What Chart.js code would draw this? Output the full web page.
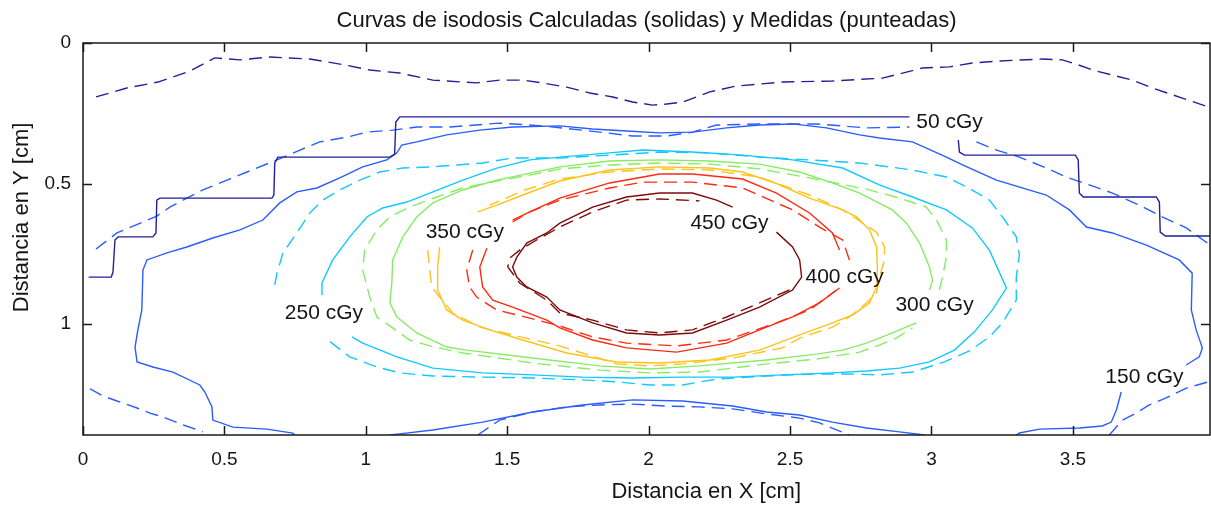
<!DOCTYPE html>
<html>
<head>
<meta charset="utf-8">
<title>Curvas de isodosis</title>
<script src="https://cdn.jsdelivr.net/npm/chart.js@4.4.1/dist/chart.umd.min.js"></script>
<style>
  html, body { margin: 0; padding: 0; background: #fff; }
  #isodosis { display: block; }
</style>
</head>
<body>
<canvas id="isodosis" width="1211" height="506"></canvas>
<script>
// dose levels (cGy) and axis ticks (cm)
const levels = [50, 150, 250, 300, 350, 400, 450];
const xTicks = [0, 0.5, 1, 1.5, 2, 2.5, 3, 3.5];
const yTicks = [0, 0.5, 1];

// calculated isodoses (solid): [x, y] in cm, null breaks the line
const calc50 = [[0.02,0.833],[0.10,0.833],[0.106,0.815],[0.113,0.701],[0.124,0.690],[0.247,0.690],[0.258,0.676],[0.261,0.559],[0.272,0.552],[0.668,0.552],[0.675,0.541],[0.678,0.427],[0.689,0.406],[1.085,0.406],[1.102,0.395],[1.106,0.281],[1.120,0.263],[2.922,0.263],null,[3.095,0.345],[3.099,0.388],[3.117,0.399],[3.509,0.399],[3.519,0.416],[3.523,0.534],[3.537,0.548],[3.795,0.548],[3.806,0.566],[3.809,0.673],[3.827,0.687],[3.99,0.687]];
const calc150 = [[0.749,1.395],[0.742,1.388],[0.650,1.374],[0.530,1.367],[0.459,1.342],[0.456,1.295],[0.431,1.242],[0.413,1.217],[0.318,1.171],[0.247,1.153],[0.191,1.135],[0.184,1.082],[0.194,1.021],[0.208,0.950],[0.212,0.808],[0.226,0.772],[0.297,0.747],[0.367,0.726],[0.459,0.694],[0.555,0.665],[0.636,0.630],[0.696,0.569],[0.756,0.530],[0.827,0.516],[0.908,0.480],[0.989,0.441],[1.074,0.416],[1.110,0.391],[1.127,0.363],[1.180,0.352],[1.286,0.327],[1.403,0.310],[1.519,0.299],[1.686,0.295],[1.802,0.306],[1.922,0.313],[2.039,0.320],[2.155,0.317],[2.276,0.302],[2.392,0.292],[2.509,0.288],[2.629,0.302],[2.746,0.327],[2.816,0.338],[2.933,0.352],[3.053,0.406],[3.110,0.434],[3.230,0.488],[3.406,0.541],[3.488,0.594],[3.548,0.655],[3.640,0.676],[3.760,0.719],[3.876,0.772],[3.922,0.819],[3.919,0.950],[3.936,1.021],[3.958,1.085],[3.947,1.117],[3.901,1.146],null,[3.671,1.242],[3.654,1.306],[3.636,1.349],[3.604,1.363],[3.523,1.370],[3.382,1.374],[3.311,1.388],[3.300,1.395],null,
  [1.085,1.395],[1.120,1.391],[1.237,1.377],[1.413,1.349],[1.590,1.313],[1.767,1.288],[1.943,1.270],[2.120,1.274],[2.297,1.292],[2.417,1.313],[2.534,1.324],[2.650,1.349],[2.770,1.370],[2.887,1.384],[2.975,1.395]];
const calc250 = [[0.845,0.897],[0.845,0.854],[0.883,0.772],[0.943,0.690],[1.004,0.619],[1.060,0.587],[1.145,0.566],[1.226,0.534],[1.343,0.488],[1.463,0.445],[1.580,0.416],[1.686,0.406],[1.862,0.391],[1.979,0.381],[2.155,0.388],[2.332,0.399],[2.509,0.416],[2.686,0.445],[2.816,0.505],[2.933,0.548],[3.053,0.594],[3.145,0.658],[3.205,0.737],[3.265,0.872],[3.216,0.950],[3.152,1.028],[3.081,1.093],[2.993,1.135],[2.887,1.157],[2.770,1.167],[2.650,1.174],[2.473,1.181],[2.297,1.189],[2.120,1.189],[1.943,1.192],[1.767,1.189],[1.590,1.181],[1.413,1.174],[1.237,1.157],[1.110,1.117],[0.989,1.068],[0.951,1.046]];
const calc300 = [[2.947,0.996],[2.887,1.021],[2.827,1.046],[2.770,1.068],[2.686,1.093],[2.594,1.107],[2.417,1.128],[2.180,1.149],[2.004,1.160],[1.827,1.149],[1.590,1.121],[1.357,1.093],[1.286,1.082],[1.180,1.032],[1.110,0.975],[1.085,0.925],[1.092,0.854],[1.095,0.772],[1.131,0.690],[1.180,0.619],[1.237,0.569],[1.343,0.523],[1.463,0.488],[1.580,0.463],[1.686,0.441],[1.862,0.420],[2.039,0.416],[2.216,0.420],[2.392,0.431],[2.534,0.459],[2.650,0.498],[2.746,0.534],[2.862,0.594],[2.912,0.641],[2.958,0.712],[2.993,0.797],[3.004,0.843],[2.993,0.879]];
const calc350 = [[1.396,0.601],[1.463,0.577],[1.555,0.541],[1.686,0.491],[1.862,0.452],[2.039,0.441],[2.216,0.445],[2.332,0.459],[2.452,0.500],[2.569,0.552],[2.686,0.594],[2.735,0.619],[2.781,0.665],[2.806,0.726],[2.809,0.808],[2.806,0.868],[2.781,0.925],[2.721,0.968],[2.650,0.996],[2.534,1.039],[2.392,1.093],[2.216,1.128],[2.039,1.139],[1.887,1.135],[1.710,1.103],[1.555,1.057],[1.438,1.021],[1.343,0.986],[1.286,0.950],[1.254,0.879],[1.254,0.797],[1.261,0.726]];
const calc400 = [[2.675,0.737],[2.650,0.676],[2.569,0.605],[2.452,0.534],[2.332,0.484],[2.155,0.466],[2.039,0.466],[1.862,0.498],[1.686,0.552],[1.580,0.601],[1.519,0.630],null,[1.428,0.730],[1.403,0.797],[1.413,0.868],[1.449,0.915],[1.519,0.940],[1.640,0.986],[1.686,1.014],[1.802,1.057],[1.922,1.085],[2.099,1.100],[2.276,1.068],[2.392,1.021],[2.509,0.975],[2.604,0.925],[2.675,0.872]];
const calc450 = [[2.452,0.673],[2.509,0.726],[2.534,0.772],[2.541,0.833],[2.509,0.879],[2.392,0.940],[2.276,0.986],[2.155,1.032],[2.039,1.039],[1.922,1.032],[1.802,0.996],[1.686,0.950],[1.640,0.904],[1.569,0.868],[1.534,0.833],[1.519,0.797],[1.534,0.762],[1.569,0.712],[1.640,0.676],[1.686,0.641],[1.802,0.584],[1.922,0.548],[2.039,0.534],[2.155,0.534],[2.240,0.559],[2.297,0.584]];

// measured isodoses (dashed)
const meas50 = [[0.046,0.192],[0.155,0.160],[0.265,0.139],[0.378,0.100],[0.466,0.053],[0.555,0.060],[0.661,0.050],[0.802,0.057],[0.926,0.078],[1.014,0.096],[1.120,0.107],[1.237,0.132],[1.392,0.142],[1.473,0.132],[1.555,0.132],[1.625,0.142],[1.710,0.157],[1.792,0.178],[1.873,0.192],[1.943,0.210],[2.014,0.221],[2.064,0.217],[2.120,0.210],[2.170,0.192],[2.216,0.174],[2.311,0.153],[2.473,0.139],[2.650,0.135],[2.827,0.125],[2.887,0.110],[2.968,0.089],[3.064,0.085],[3.145,0.071],[3.240,0.064],[3.392,0.057],[3.463,0.060],[3.512,0.075],[3.569,0.096],[3.640,0.114],[3.710,0.132],[3.781,0.160],[3.887,0.196],[3.99,0.231]];
const meas150 = [[0.025,1.231],[0.071,1.256],[0.120,1.274],[0.191,1.299],[0.237,1.317],[0.283,1.331],[0.353,1.359],[0.406,1.377],[0.424,1.384],null,
  [0.046,0.733],[0.120,0.676],[0.212,0.637],[0.261,0.616],[0.307,0.584],[0.367,0.552],[0.424,0.523],[0.509,0.488],[0.580,0.459],[0.686,0.416],[0.767,0.381],[0.837,0.352],[0.933,0.335],[1.004,0.317],[1.095,0.310],[1.180,0.299],[1.297,0.299],[1.473,0.285],[1.625,0.295],[1.827,0.317],[1.943,0.331],[2.064,0.331],[2.155,0.317],[2.240,0.292],[2.392,0.288],[2.594,0.288],[2.770,0.302],[2.922,0.299],null,
  [3.159,0.352],[3.230,0.381],[3.311,0.406],[3.406,0.445],[3.477,0.477],[3.558,0.505],[3.640,0.534],[3.735,0.577],[3.816,0.619],[3.901,0.658],[3.99,0.722],null,
  [1.396,1.395],[1.473,1.342],[1.590,1.313],[1.710,1.295],[1.827,1.288],[1.943,1.285],[2.064,1.292],[2.180,1.295],[2.297,1.302],[2.417,1.320],[2.534,1.335],[2.604,1.352],[2.710,1.395],null,
  [3.629,1.395],[3.675,1.342],[3.724,1.317],[3.770,1.288],[3.830,1.263],[3.901,1.228],[3.99,1.203]];
const meas250 = [[0.678,0.861],[0.686,0.819],[0.707,0.747],[0.756,0.676],[0.802,0.605],[0.848,0.559],[0.908,0.523],[0.979,0.488],[1.049,0.459],[1.131,0.445],[1.226,0.441],[1.322,0.434],[1.413,0.427],[1.519,0.409],[1.686,0.409],[1.862,0.399],[2.039,0.388],[2.216,0.391],[2.392,0.406],[2.569,0.416],[2.746,0.427],[2.852,0.441],[2.933,0.452],[3.053,0.477],[3.124,0.512],[3.205,0.559],[3.251,0.619],[3.300,0.690],[3.311,0.754],[3.300,0.833],[3.300,0.915],[3.251,0.996],[3.205,1.046],[3.134,1.096],[3.046,1.135],[2.933,1.171],[2.816,1.181],[2.710,1.178],[2.594,1.178],[2.417,1.185],[2.240,1.196],[2.120,1.217],[2.004,1.217],[1.887,1.206],[1.767,1.199],[1.590,1.192],[1.413,1.189],[1.237,1.185],[1.120,1.174],[1.039,1.153],[0.943,1.117],[0.866,1.057]];
const meas300 = [[3.028,0.879],[3.039,0.833],[3.053,0.762],[3.053,0.701],[3.018,0.630],[2.982,0.584],[2.887,0.552],[2.770,0.520],[2.569,0.480],[2.392,0.448],[2.216,0.431],[2.039,0.427],[1.862,0.434],[1.686,0.448],[1.580,0.470],[1.463,0.491],[1.343,0.516],[1.251,0.548],[1.155,0.584],[1.085,0.619],[1.039,0.665],[0.996,0.737],[0.989,0.808],[1.014,0.904],[1.039,0.975],[1.095,1.014],[1.155,1.057],[1.226,1.078],[1.343,1.103],[1.590,1.139],[1.827,1.164],[2.004,1.174],[2.180,1.171],[2.417,1.142],[2.594,1.125],[2.746,1.100],[2.816,1.075],[2.876,1.050],[2.933,1.014]];
const meas350 = [[1.219,0.737],[1.226,0.808],[1.233,0.868],[1.261,0.904],[1.307,0.961],[1.403,1.011],[1.519,1.039],[1.686,1.078],[1.887,1.142],[2.004,1.149],[2.120,1.142],[2.297,1.121],[2.473,1.085],[2.534,1.050],[2.650,1.011],[2.710,0.975],[2.770,0.925],[2.806,0.890],[2.816,0.833],[2.834,0.772],[2.834,0.726],[2.806,0.673],[2.686,0.594],[2.569,0.541],[2.392,0.477],[2.216,0.452],[2.039,0.448],[1.862,0.459],[1.686,0.484],[1.562,0.523],[1.438,0.577]];
const meas400 = [[2.710,0.772],[2.686,0.701],[2.604,0.655],[2.509,0.594],[2.332,0.516],[2.155,0.495],[1.979,0.495],[1.862,0.516],[1.686,0.559],[1.580,0.601],[1.519,0.637],null,[1.378,0.737],[1.357,0.808],[1.367,0.868],[1.392,0.904],[1.463,0.950],[1.580,0.979],[1.686,1.007],[1.802,1.046],[1.922,1.068],[2.099,1.078],[2.276,1.057],[2.452,0.996],[2.569,0.950],[2.664,0.879]];
const meas450 = [[2.498,0.879],[2.392,0.925],[2.276,0.975],[2.155,1.021],[2.039,1.032],[1.922,1.021],[1.802,0.986],[1.686,0.961],[1.640,0.915],[1.544,0.854],[1.502,0.797],[1.509,0.765],[1.544,0.737],[1.604,0.701],[1.686,0.655],[1.802,0.601],[1.922,0.559],[2.039,0.555],[2.180,0.562]];

// where each level's label sits, [x, y] in cm (same order as levels)
const labelAt = [[3.064,0.281],[3.753,1.189],[0.852,0.961],[3.011,0.932],[1.350,0.673],[2.693,0.833],[2.286,0.641]];

const calculated = [calc50, calc150, calc250, calc300, calc350, calc400, calc450];
const measured = [meas50, meas150, meas250, meas300, meas350, meas400, meas450];

// jet-like colour per level
const levelColors = ['#20209a', '#2a5cff', '#12c8ff', '#86ec62', '#ffc21a', '#ff2a10', '#7d0a0a'];
const FONT = '"Liberation Sans", Arial, sans-serif';
const INK = '#151515';

function toPoints(list) {
    return list.map(p => p ? { x: p[0], y: p[1] } : { x: null, y: null });
}

function lineSet(list, i, dashed) {
    return {
        label: levels[i] + ' cGy ' + (dashed ? 'medida' : 'calculada'),
        data: toPoints(list),
        showLine: true,
        pointRadius: 0,
        borderWidth: 1.4,
        borderColor: levelColors[i],
        borderDash: dashed ? [13, 7] : [],
        tension: 0,
        spanGaps: false
    };
}

const datasets = [];
levels.forEach((lv, i) => {
    datasets.push(lineSet(measured[i], i, true));
    datasets.push(lineSet(calculated[i], i, false));
});

// box around the plot plus inward tick marks on all four sides
const frameBox = {
    id: 'frameBox',
    afterDatasetsDraw(chart) {
        const { ctx, chartArea: a, scales: { x, y } } = chart;
        ctx.save();
        ctx.strokeStyle = '#1a1a1a';
        ctx.lineWidth = 1.5;
        ctx.strokeRect(a.left, a.top, a.right - a.left, a.bottom - a.top);
        ctx.beginPath();
        xTicks.forEach(v => {
            const px = Math.round(x.getPixelForValue(v)) + 0.5;
            ctx.moveTo(px, a.bottom); ctx.lineTo(px, a.bottom - 9);
            ctx.moveTo(px, a.top); ctx.lineTo(px, a.top + 9);
        });
        yTicks.forEach(v => {
            const py = Math.round(y.getPixelForValue(v)) + 0.5;
            ctx.moveTo(a.left, py); ctx.lineTo(a.left + 9, py);
            ctx.moveTo(a.right, py); ctx.lineTo(a.right - 9, py);
        });
        ctx.stroke();
        ctx.restore();
    }
};

// "NNN cGy" labels along the contours, and the two axis names
const doseLabels = {
    id: 'doseLabels',
    afterDatasetsDraw(chart) {
        const { ctx, chartArea: a, scales: { x, y } } = chart;
        ctx.save();
        ctx.font = '21px ' + FONT;
        ctx.fillStyle = INK;
        ctx.textAlign = 'center';
        ctx.textBaseline = 'middle';
        levels.forEach((lv, i) => {
            const [lx, ly] = labelAt[i];
            ctx.fillText(lv + ' cGy', x.getPixelForValue(lx), y.getPixelForValue(ly));
        });

        ctx.font = '22px ' + FONT;
        ctx.fillText('Distancia en X [cm]', a.left + (a.right - a.left) * 0.553, a.bottom + 57);
        ctx.translate(22, a.top + (a.bottom - a.top) * 0.445);
        ctx.rotate(-Math.PI / 2);
        ctx.fillText('Distancia en Y [cm]', 0, 0);
        ctx.restore();
    }
};

new Chart(document.getElementById('isodosis'), {
    type: 'scatter',
    data: { datasets },
    plugins: [frameBox, doseLabels],
    options: {
        responsive: false,
        devicePixelRatio: 1,
        animation: false,
        layout: { padding: { left: 0, right: 1, top: 0, bottom: 0 } },
        plugins: {
            legend: { display: false },
            tooltip: { enabled: false },
            title: {
                display: true,
                fullSize: false,
                text: 'Curvas de isodosis Calculadas (solidas) y Medidas (punteadas)',
                color: INK,
                font: { family: FONT, size: 22, weight: 'normal' },
                padding: { top: 8, bottom: 8.6 }
            }
        },
        scales: {
            x: {
                type: 'linear',
                min: 0,
                max: 3.985,
                grid: { display: false, drawTicks: false },
                border: { display: false },
                afterBuildTicks: s => { s.ticks = xTicks.map(v => ({ value: v })); },
                afterFit: s => { s.height = 71; },
                ticks: {
                    color: INK,
                    padding: 13,
                    font: { family: FONT, size: 19 },
                    callback: v => String(v)
                }
            },
            y: {
                type: 'linear',
                reverse: true,
                min: 0,
                max: 1.395,
                grid: { display: false, drawTicks: false },
                border: { display: false },
                afterBuildTicks: s => { s.ticks = yTicks.map(v => ({ value: v })); },
                afterFit: s => { s.width = 83; },
                ticks: {
                    color: INK,
                    padding: 12,
                    font: { family: FONT, size: 19 },
                    callback: v => String(v)
                }
            }
        }
    }
});
</script>
</body>
</html>
